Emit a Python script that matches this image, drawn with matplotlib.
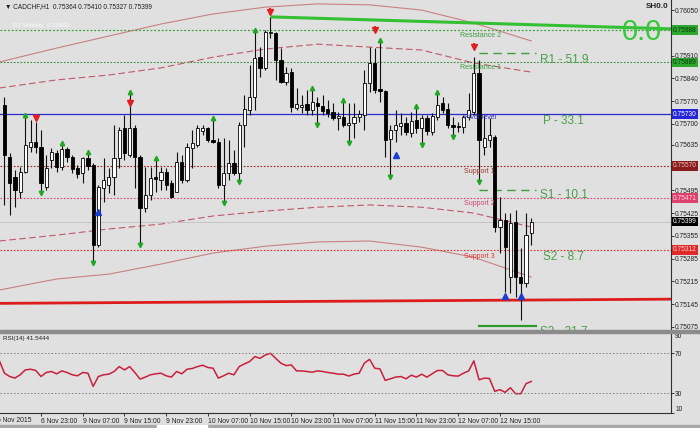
import matplotlib
matplotlib.use("Agg")
import matplotlib.pyplot as plt
import numpy as np

plt.rcParams['font.family'] = ['Liberation Sans', 'DejaVu Sans']

# ---------------- data ----------------
opens = [0.75758, 0.75597, 0.75536, 0.75490, 0.75551, 0.75628, 0.75644, 0.75628, 0.75505, 0.75588,
         0.75610, 0.75567, 0.75622, 0.75597, 0.75564, 0.75548, 0.75594, 0.75573, 0.75326, 0.75502,
         0.75511, 0.75536, 0.75594, 0.75687, 0.75604, 0.75687, 0.75597, 0.75440, 0.75480, 0.75536,
         0.75527, 0.75551, 0.75517, 0.75490, 0.75582, 0.75527, 0.75625, 0.75634, 0.75678, 0.75687,
         0.75650, 0.75644, 0.75511, 0.75548, 0.75579, 0.75548, 0.75696, 0.75742, 0.75782, 0.75905,
         0.75872, 0.75979, 0.75979, 0.75896, 0.75828, 0.75859, 0.75748, 0.75751, 0.75761, 0.75742,
         0.75764, 0.75755, 0.75745, 0.75736, 0.75718, 0.75721, 0.75696, 0.75702, 0.75721, 0.75727,
         0.75825, 0.75887, 0.75807, 0.75801, 0.75653, 0.75681, 0.75693, 0.75702, 0.75671, 0.75711,
         0.75687, 0.75718, 0.75674, 0.75721, 0.75764, 0.75745, 0.75696, 0.75693, 0.75690, 0.75721,
         0.75736, 0.75856, 0.75628, 0.75650, 0.75659, 0.75382, 0.75403, 0.75228, 0.75397, 0.75228,
         0.75209, 0.75364]
highs = [0.75782, 0.75610, 0.75557, 0.75567, 0.75727, 0.75711, 0.75705, 0.75681, 0.75604, 0.75625,
         0.75619, 0.75641, 0.75628, 0.75604, 0.75573, 0.75597, 0.75613, 0.75579, 0.75511, 0.75594,
         0.75564, 0.75696, 0.75690, 0.75727, 0.75798, 0.75696, 0.75604, 0.75567, 0.75567, 0.75594,
         0.75567, 0.75564, 0.75527, 0.75613, 0.75604, 0.75641, 0.75681, 0.75696, 0.75696, 0.75690,
         0.75718, 0.75656, 0.75656, 0.75650, 0.75619, 0.75705, 0.75788, 0.75881, 0.75989, 0.75936,
         0.75989, 0.76029, 0.75982, 0.75933, 0.75875, 0.75872, 0.75810, 0.75788, 0.75804, 0.75810,
         0.75782, 0.75788, 0.75773, 0.75764, 0.75736, 0.75773, 0.75764, 0.75764, 0.75742, 0.75865,
         0.75936, 0.75933, 0.75958, 0.75804, 0.75696, 0.75742, 0.75733, 0.75721, 0.75736, 0.75755,
         0.75727, 0.75727, 0.75733, 0.75798, 0.75782, 0.75764, 0.75721, 0.75705, 0.75727, 0.75795,
         0.75905, 0.75896, 0.75727, 0.75718, 0.75665, 0.75474, 0.75425, 0.75425, 0.75434, 0.75317,
         0.75425, 0.75410]
lows = [0.75450, 0.75419, 0.75443, 0.75471, 0.75548, 0.75613, 0.75610, 0.75487, 0.75496, 0.75564,
        0.75551, 0.75557, 0.75582, 0.75548, 0.75533, 0.75517, 0.75557, 0.75271, 0.75320, 0.75459,
        0.75487, 0.75480, 0.75564, 0.75588, 0.75597, 0.75502, 0.75326, 0.75428, 0.75465, 0.75490,
        0.75496, 0.75496, 0.75471, 0.75490, 0.75517, 0.75520, 0.75564, 0.75628, 0.75665, 0.75644,
        0.75641, 0.75502, 0.75456, 0.75527, 0.75542, 0.75520, 0.75628, 0.75727, 0.75742, 0.75844,
        0.75865, 0.75964, 0.75835, 0.75825, 0.75819, 0.75736, 0.75742, 0.75733, 0.75727, 0.75727,
        0.75696, 0.75727, 0.75721, 0.75711, 0.75681, 0.75690, 0.75641, 0.75656, 0.75705, 0.75681,
        0.75798, 0.75795, 0.75767, 0.75597, 0.75536, 0.75644, 0.75665, 0.75665, 0.75659, 0.75671,
        0.75634, 0.75665, 0.75665, 0.75711, 0.75733, 0.75687, 0.75659, 0.75674, 0.75671, 0.75711,
        0.75727, 0.75520, 0.75604, 0.75628, 0.75366, 0.75302, 0.75182, 0.75179, 0.75166, 0.75095,
        0.75197, 0.75327]
closes = [0.75604, 0.75517, 0.75496, 0.75551, 0.75634, 0.75644, 0.75628, 0.75517, 0.75564, 0.75613,
          0.75567, 0.75622, 0.75597, 0.75561, 0.75545, 0.75594, 0.75570, 0.75326, 0.75505, 0.75527,
          0.75536, 0.75594, 0.75681, 0.75610, 0.75687, 0.75597, 0.75440, 0.75480, 0.75533, 0.75530,
          0.75551, 0.75511, 0.75474, 0.75582, 0.75527, 0.75628, 0.75641, 0.75687, 0.75687, 0.75650,
          0.75644, 0.75511, 0.75548, 0.75579, 0.75548, 0.75696, 0.75745, 0.75782, 0.75902, 0.75872,
          0.75982, 0.75982, 0.75896, 0.75828, 0.75856, 0.75751, 0.75761, 0.75758, 0.75742, 0.75767,
          0.75755, 0.75739, 0.75733, 0.75718, 0.75724, 0.75696, 0.75702, 0.75721, 0.75730, 0.75825,
          0.75887, 0.75804, 0.75801, 0.75650, 0.75681, 0.75696, 0.75702, 0.75674, 0.75708, 0.75687,
          0.75718, 0.75678, 0.75724, 0.75758, 0.75742, 0.75696, 0.75690, 0.75690, 0.75721, 0.75742,
          0.75856, 0.75650, 0.75656, 0.75665, 0.75382, 0.75403, 0.75320, 0.75394, 0.75228, 0.75209,
          0.75357, 0.75399]

rsi = [62.5,
       49.8, 46.5, 44.9, 48.2, 53.1, 53.8, 52.5, 46.5, 50.5, 51.5,
       49.2, 52.1, 50.5, 48.2, 47.2, 50.5, 49.8, 36.6, 46.5, 48.2,
       48.8, 51.5, 56.4, 53.1, 56.4, 50.5, 43.9, 45.9, 48.2, 49.2,
       49.8, 47.2, 45.9, 51.5, 49.2, 53.8, 54.5, 56.4, 57.8, 55.5,
       54.8, 44.9, 47.2, 49.8, 48.2, 56.4, 59.1, 61.4, 66.4, 64.7,
       68.0, 69.7, 64.7, 59.8, 57.4, 58.1, 52.1, 52.1, 51.5, 50.8,
       52.1, 51.5, 50.5, 49.8, 48.8, 48.8, 47.0, 48.8, 49.8, 59.8,
       63.7, 54.8, 54.1, 42.6, 44.2, 45.9, 46.5, 44.2, 47.8, 45.9,
       48.8, 45.9, 49.2, 52.5, 52.5, 48.2, 47.2, 46.9, 49.8, 52.1,
       62.1, 43.2, 44.9, 44.5, 31.7, 33.3, 30.7, 35.3, 29.3, 29.3,
       39.3, 41.5444]

# envelope / band curves (sampled at bar indices)
band_idx = [-1, 10, 20, 30, 40, 50, 60, 70, 80, 90, 101]
band_upper_outer = [0.75890, 0.75933, 0.75970, 0.76007, 0.76038, 0.76059, 0.76069, 0.76066, 0.76050, 0.76010, 0.75955]
band_upper_inner = [0.75810, 0.75835, 0.75850, 0.75872, 0.75905, 0.75930, 0.75945, 0.75936, 0.75927, 0.75887, 0.75859]
band_lower_inner = [0.75339, 0.75357, 0.75376, 0.75391, 0.75416, 0.75431, 0.75443, 0.75450, 0.75443, 0.75425, 0.75382]
band_lower_outer = [0.75188, 0.75222, 0.75237, 0.75268, 0.75302, 0.75323, 0.75336, 0.75339, 0.75320, 0.75289, 0.75228]

# horizontal levels
lvl_r2w = 0.75988
lvl_r1 = 0.75889
lvl_pivot = 0.75730
lvl_s1 = 0.75570
lvl_s2 = 0.75471
lvl_bid = 0.75399
lvl_s3 = 0.75312

res_line_idx = [51, 128]
res_line_price = [0.76029, 0.75992]
sup_line_idx = [-1, 128]
sup_line_price = [0.75147, 0.75160]

up_fractals = [4, 11, 16, 24, 29, 40, 48, 59, 65, 72, 79, 83]
down_fractals = [7, 17, 26, 42, 45, 60, 66, 74, 80, 86, 91]

red_arrow_idx = [6, 24, 51, 71, 90]
red_arrow_price = [0.75718, 0.75764, 0.76044, 0.75989, 0.75936]
blue_arrow_idx = [18, 75, 96, 99]
blue_arrow_price = [0.75428, 0.75604, 0.75169, 0.75169]

pivot_seg_idx = [91, 102]
pivot_dash_r1 = 0.75918
pivot_dash_s1 = 0.75496
pivot_s3 = 0.75077

price_ticks = [0.76050, 0.75910, 0.75840, 0.75770, 0.75700, 0.75635, 0.75495,
               0.75425, 0.75355, 0.75285, 0.75215, 0.75145, 0.75075]
rsi_ticks = [10, 30, 70, 90]
time_tick_idx = [7, 15, 23, 31, 39, 47, 55, 63, 71, 79, 87, 95]
time_tick_labels = ["6 Nov 23:00", "9 Nov 07:00", "9 Nov 15:00", "9 Nov 23:00",
                    "10 Nov 07:00", "10 Nov 15:00", "10 Nov 23:00", "11 Nov 07:00",
                    "11 Nov 15:00", "11 Nov 23:00", "12 Nov 07:00", "12 Nov 15:00"]

# ---------------- figure ----------------
BG = "#e0e0e0"
W, H = 700, 428
fig = plt.figure(figsize=(W / 100, H / 100), dpi=100, facecolor=BG)

xmin, xmax = -0.86, 127.8
ax = fig.add_axes([0, 1 - 330 / H, 671 / W, 330 / H], facecolor=BG)
ax.set_xlim(xmin, xmax)
ax.set_ylim(0.75065, 0.76081)

idx = np.arange(len(opens))
o = np.array(opens); c = np.array(closes); hi = np.array(highs); lo = np.array(lows)

# bands
ax.plot(band_idx, band_upper_outer, color="#c98080", lw=0.8, zorder=1)
ax.plot(band_idx, band_lower_outer, color="#c98080", lw=0.8, zorder=1)
ax.plot(band_idx, band_upper_inner, color="#c05868", lw=0.8, dashes=(6, 3), zorder=1)
ax.plot(band_idx, band_lower_inner, color="#c05868", lw=0.8, dashes=(6, 3), zorder=1)

# level lines
ax.axhline(lvl_r2w, color="#3aa03a", lw=0.9, ls=(0, (1.5, 1.5)), zorder=1)
ax.axhline(lvl_r1, color="#3a903a", lw=0.8, ls=(0, (1.5, 1.5)), zorder=1)
ax.axhline(lvl_pivot, color="#2a2ad0", lw=0.9, zorder=1)
ax.axhline(lvl_s1, color="#a02828", lw=0.8, ls=(0, (1.5, 1.5)), zorder=1)
ax.axhline(lvl_s2, color="#e04878", lw=0.8, ls=(0, (1.5, 1.5)), zorder=1)
ax.axhline(lvl_bid, color="#c4c4c4", lw=0.7, zorder=1)
ax.axhline(lvl_s3, color="#e03030", lw=0.8, ls=(0, (1.5, 1.5)), zorder=1)

ax.plot(res_line_idx, res_line_price, color="#33c033", lw=2.2, zorder=2, solid_capstyle="butt")
ax.plot(sup_line_idx, sup_line_price, color="#dd1c1c", lw=2.0, zorder=2)

# pivot segments
ax.plot(pivot_seg_idx, [pivot_dash_r1] * 2, color="#3aa03a", lw=1.0, dashes=(6, 4), zorder=2)
ax.plot(pivot_seg_idx, [pivot_dash_s1] * 2, color="#3aa03a", lw=1.0, dashes=(6, 4), zorder=2)
ax.plot(pivot_seg_idx, [pivot_s3] * 2, color="#2e9a2e", lw=1.6, zorder=2)

# candles
ax.vlines(idx, lo, hi, color="#101010", lw=0.8, zorder=3)
up = c >= o
body_h = np.maximum(np.abs(c - o), 0.000008)
ax.bar(idx[up], body_h[up], bottom=np.minimum(o, c)[up], width=0.62,
       color="white", edgecolor="black", linewidth=0.6, zorder=4)
ax.bar(idx[~up], body_h[~up], bottom=np.minimum(o, c)[~up], width=0.62,
       color="black", edgecolor="black", linewidth=0.6, zorder=4)

# fractal markers
ax.plot(up_fractals, hi[up_fractals], ls="none", marker="^", ms=3.2, color="#1fa81f", zorder=5)
ax.plot(down_fractals, lo[down_fractals], ls="none", marker="v", ms=3.2, color="#1fa81f", zorder=5)

# signal arrows
stem = 0.00012
ax.vlines(red_arrow_idx, np.array(red_arrow_price), np.array(red_arrow_price) + stem,
          color="#e02020", lw=1.3, zorder=6)
ax.plot(red_arrow_idx, red_arrow_price, ls="none", marker="v", ms=5, color="#e02020", zorder=6)
ax.vlines(blue_arrow_idx, np.array(blue_arrow_price) - stem, blue_arrow_price,
          color="#1a3fd0", lw=1.3, zorder=6)
ax.plot(blue_arrow_idx, blue_arrow_price, ls="none", marker="^", ms=5, color="#1a3fd0", zorder=6)

# level texts
ax.text(87.3, 0.75973, "Resistance 2", fontsize=5, color="#3c9c3c", va="center", zorder=7)
ax.text(87.3, 0.75872, "Resistance 1", fontsize=5, color="#3c9c3c", va="center", zorder=7)
ax.text(88.2, 0.75718, "Pivot level", fontsize=5, color="#3333c0", va="center", zorder=7)
ax.text(88.2, 0.75554, "Support 1", fontsize=5, color="#a03030", va="center", zorder=7)
ax.text(88.2, 0.75453, "Support 2", fontsize=5, color="#d04070", va="center", zorder=7)
ax.text(88.2, 0.75292, "Support 3", fontsize=5, color="#e03030", va="center", zorder=7)

pcol = "#4a9e4a"
ax.text(102.7, 0.75896, "R1 - 51.9", fontsize=8.5, color=pcol, va="center", zorder=7)
ax.text(103.2, 0.75708, "P - 33.1", fontsize=8.5, color=pcol, va="center", zorder=7)
ax.text(102.7, 0.75480, "S1 - 10.1", fontsize=8.5, color=pcol, va="center", zorder=7)
ax.text(103.2, 0.75289, "S2 - 8.7", fontsize=8.5, color=pcol, va="center", zorder=7)
ax.text(102.7, 0.75058, "S3 - 31.7", fontsize=8.5, color=pcol, va="center", zorder=7)
ax.text(122.2, 0.75982, "0.0", fontsize=21, color="#36c836", va="center", ha="center", zorder=7)
ax.text(125.2, 0.76062, "SH0.0", fontsize=5.8, fontweight="bold", color="#202020",
        va="center", ha="center", zorder=7)

# axis styling
for s in ["top", "left", "bottom"]:
    ax.spines[s].set_visible(False)
ax.spines["right"].set_color("#303030")
ax.spines["right"].set_linewidth(0.8)
ax.set_xticks([])
ax.yaxis.tick_right()
ax.set_yticks(price_ticks)
ax.set_yticklabels([f"{p:.5f}" for p in price_ticks])
ax.tick_params(axis="y", labelsize=4.8, length=2, pad=1, width=0.6, colors="#202020")

def box(price, txt, fc, tc):
    ax.text(1.003, price, txt, transform=ax.get_yaxis_transform(), ha="left", va="center",
            fontsize=4.8, color=tc, clip_on=False, zorder=9,
            bbox=dict(boxstyle="square,pad=0.2", fc=fc, ec="none"))

box(lvl_r2w, "0.75988", "#2ea82e", "#0a3a0a")
box(lvl_r1, "0.75889", "#2ea82e", "#0a3a0a")
box(lvl_pivot, "0.75730", "#2424d8", "white")
box(lvl_s1, "0.75570", "#8a1c1c", "#f0c0c0")
box(lvl_s2, "0.75471", "#e0406c", "#ffd8e0")
box(lvl_bid, "0.75399", "black", "white")
box(lvl_s3, "0.75312", "#e02a2a", "#ffd0d0")

# ---------------- RSI panel ----------------
ax2 = fig.add_axes([0, 1 - 413 / H, 671 / W, 80 / H], facecolor=BG)
ax2.set_xlim(xmin, xmax)
ax2.set_ylim(10, 90)
ax2.plot(np.arange(-1, len(rsi) - 1), rsi, color="#c8203c", lw=1.1)
ax2.axhline(70, color="#808080", lw=0.7, ls=(0, (1.5, 2)))
ax2.axhline(30, color="#808080", lw=0.7, ls=(0, (1.5, 2)))
for s in ["top", "left"]:
    ax2.spines[s].set_visible(False)
ax2.spines["right"].set_color("#303030")
ax2.spines["right"].set_linewidth(0.8)
ax2.spines["bottom"].set_color("#303030")
ax2.spines["bottom"].set_linewidth(0.8)
ax2.yaxis.tick_right()
ax2.set_yticks(rsi_ticks)
ax2.tick_params(axis="y", labelsize=4.8, length=2, pad=1, width=0.6, colors="#202020")
ylabels = ax2.get_yticklabels()
ylabels[0].set_va("bottom")
ylabels[-1].set_va("top")
ax2.set_xticks(time_tick_idx)
ax2.set_xticklabels(time_tick_labels, ha="left")
ax2.tick_params(axis="x", labelsize=4.9, length=2, pad=1.5, width=0.6, colors="#202020")
ax2.text(-1.4, -0.045, "6 Nov 2015", transform=ax2.get_xaxis_transform(), fontsize=4.9,
         color="#202020", ha="left", va="top", clip_on=False)
ax2.text(0.004, 0.93, "RSI(14) 41.5444", transform=ax2.transAxes, fontsize=4.5,
         color="#202020", va="center")

# header / decorations
fig.text(0.007, 1 - 7 / H, "\u25bc CADCHF,H1  0.75364 0.75410 0.75327 0.75399",
         fontsize=4.7, color="#202020", va="center")
fig.text(13 / W, 1 - 26 / H, "R2 Weekly  0.75982", fontsize=4.5, color="white", va="center", alpha=0.9)
fig.patches.append(plt.Rectangle((0, 1 - 333 / H), 1, 3 / H, transform=fig.transFigure,
                                 color="#8c8c8c", zorder=10))
fig.patches.append(plt.Rectangle((0, 0), 1, 3 / H, transform=fig.transFigure,
                                 color="#a8a8a8", zorder=10))
fig.patches.append(plt.Rectangle((157 / W, 0), 50 / W, 3 / H, transform=fig.transFigure,
                                 color="white", zorder=11))

fig.savefig("out.png", dpi=100, facecolor=BG)
